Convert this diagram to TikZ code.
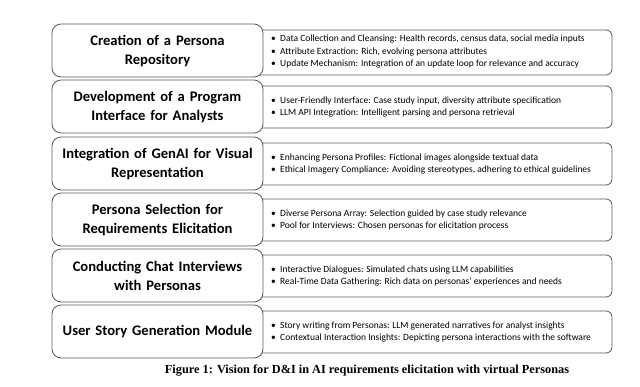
\documentclass[tikz,border=0pt]{standalone}
\usepackage{fontspec}
\setmainfont{Carlito}
\newfontfamily\capfont{Liberation Serif}
\usetikzlibrary{positioning}
\definecolor{boxline}{HTML}{5A5A5A}

\tikzset{
  stagebox/.style={draw=boxline, fill=white, line width=0.8pt, rounded corners=9pt},
  detailbox/.style={draw=boxline, fill=white, line width=0.8pt, rounded corners=6pt},
  stagetitle/.style={font=\fontsize{14.6}{19}\selectfont\bfseries, align=center, text width=205pt},
  detailtext/.style={font=\fontsize{9.5}{12.5}\selectfont, align=left, anchor=west, inner sep=0pt},
}

\begin{document}
\begin{tikzpicture}[x=1pt, y=-1pt]
\useasboundingbox (0,0) rectangle (640,386);
% stage 1
\draw[detailbox] (250,30) rectangle (612,75);
\draw[stagebox] (52,24) rectangle (263,77);
\node[stagetitle] (repo) at (157.5,51) {Creation of a Persona\\Repository};
\node[detailtext] (repoinfo) at (271,52) {\textbullet\ \ Data Collection and Cleansing: Health records, census data, social media inputs\\
  \textbullet\ \ Attribute Extraction: Rich, evolving persona attributes\\
  \textbullet\ \ Update Mechanism: Integration of an update loop for relevance and accuracy};
% stage 2
\draw[detailbox] (250,86) rectangle (612,128);
\draw[stagebox] (52,80) rectangle (263,133);
\node[stagetitle] (iface) at (157.5,107) {Development of a Program\\Interface for Analysts};
\node[detailtext] (ifaceinfo) at (271,107) {\textbullet\ \ User-Friendly Interface: Case study input, diversity attribute specification\\
  \textbullet\ \ LLM API Integration: Intelligent parsing and persona retrieval};
% stage 3
\draw[detailbox] (250,143) rectangle (612,185);
\draw[stagebox] (52,137) rectangle (263,190);
\node[stagetitle] (genai) at (157.5,164) {Integration of GenAI for Visual\\Representation};
\node[detailtext] (genaiinfo) at (271,164) {\textbullet\ \ Enhancing Persona Profiles: Fictional images alongside textual data\\
  \textbullet\ \ Ethical Imagery Compliance: Avoiding stereotypes, adhering to ethical guidelines};
% stage 4
\draw[detailbox] (250,199) rectangle (612,241);
\draw[stagebox] (52,193) rectangle (263,246);
\node[stagetitle] (select) at (157.5,220) {Persona Selection for\\Requirements Elicitation};
\node[detailtext] (selectinfo) at (271,220) {\textbullet\ \ Diverse Persona Array: Selection guided by case study relevance\\
  \textbullet\ \ Pool for Interviews: Chosen personas for elicitation process};
% stage 5
\draw[detailbox] (250,255) rectangle (612,297);
\draw[stagebox] (52,249) rectangle (263,302);
\node[stagetitle] (chat) at (157.5,276) {Conducting Chat Interviews\\with Personas};
\node[detailtext] (chatinfo) at (271,276) {\textbullet\ \ Interactive Dialogues: Simulated chats using LLM capabilities\\
  \textbullet\ \ Real-Time Data Gathering: Rich data on personas' experiences and needs};
% stage 6
\draw[detailbox] (250,311) rectangle (612,353);
\draw[stagebox] (52,305) rectangle (263,358);
\node[stagetitle] (story) at (157.5,332) {User Story Generation Module};
\node[detailtext] (storyinfo) at (271,332) {\textbullet\ \ Story writing from Personas: LLM generated narratives for analyst insights\\
  \textbullet\ \ Contextual Interaction Insights: Depicting persona interactions with the software};
% caption
\node[font=\capfont\fontsize{12.3}{14}\selectfont\bfseries] (caption) at (367,371)
  {Figure 1: Vision for D\&I in AI requirements elicitation with virtual Personas};
\end{tikzpicture}
\end{document}
